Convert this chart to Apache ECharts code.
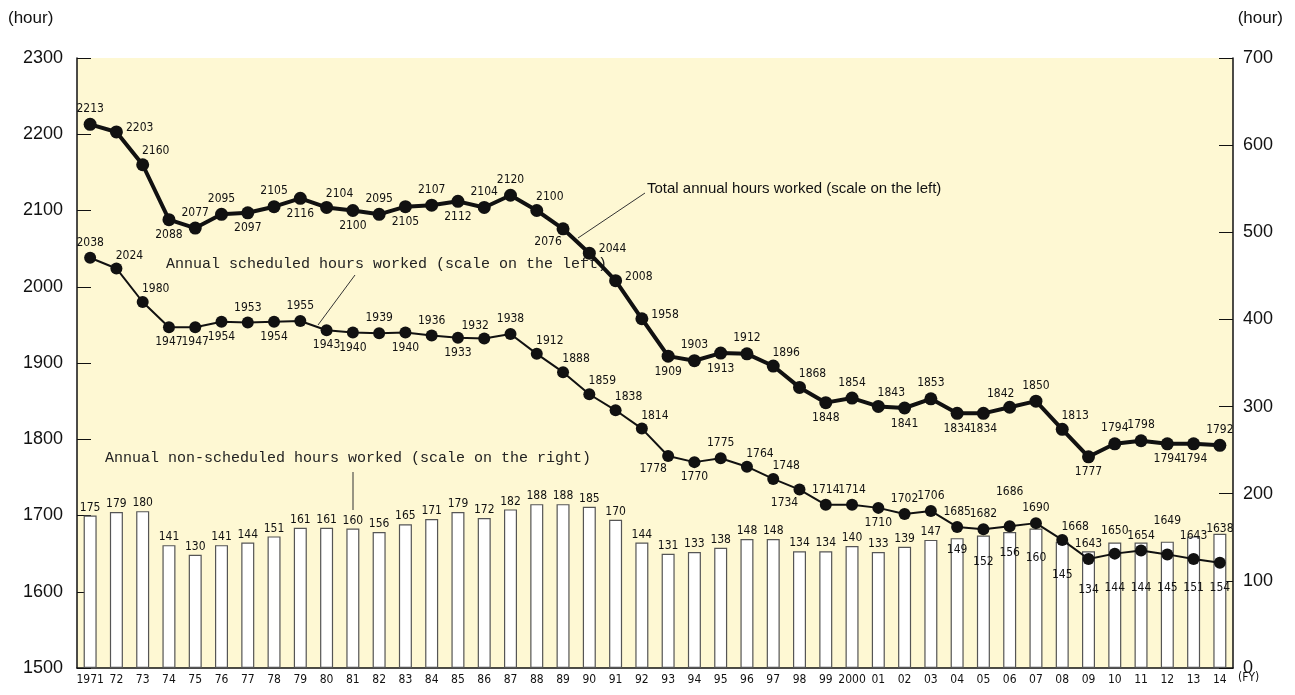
<!DOCTYPE html>
<html>
<head>
<meta charset="utf-8">
<script src="https://cdn.jsdelivr.net/npm/echarts@6/dist/echarts.min.js"></script>
<style>
  html, body { margin: 0; padding: 0; background: #fff; }
  #chart { width: 1295px; height: 695px; }
</style>
</head>
<body>
<div id="chart"></div>
<script>
// fiscal years
var years = ['1971','72','73','74','75','76','77','78','79','80','81','82','83','84','85','86','87','88','89','90',
             '91','92','93','94','95','96','97','98','99','2000','01','02','03','04','05','06','07','08','09','10',
             '11','12','13','14'];

// total annual hours worked (left scale)
var totalHours = [2213,2203,2160,2088,2077,2095,2097,2105,2116,2104,2100,2095,2105,2107,2112,2104,2120,2100,2076,2044,
                  2008,1958,1909,1903,1913,1912,1896,1868,1848,1854,1843,1841,1853,1834,1834,1842,1850,1813,1777,1794,
                  1798,1794,1794,1792];

// annual scheduled hours worked (left scale)
var scheduledHours = [2038,2024,1980,1947,1947,1954,1953,1954,1955,1943,1940,1939,1940,1936,1933,1932,1938,1912,1888,1859,
                      1838,1814,1778,1770,1775,1764,1748,1734,1714,1714,1710,1702,1706,1685,1682,1686,1690,1668,1643,1650,
                      1654,1649,1643,1638];

// annual non-scheduled hours worked (right scale)
var nonScheduledHours = [175,179,180,141,130,141,144,151,161,161,160,156,165,171,179,172,182,188,188,185,
                         170,144,131,133,138,148,148,134,134,140,133,139,147,149,152,156,160,145,134,144,
                         144,145,151,154];

// label placement codes (t = top, tm/tt = higher above, b = bottom, r = right, tr/tl/bl = shifted)
var totalPos = ['t','r','tr','b','t','t','b','t','b','tr','b','t','b','t','b','t','t','tr','bl','r',
                'r','r','b','t','b','t','tr','tr','b','t','tr','b','t','b','b','tl','t','tr','b','t',
                't','b','b','t'];
var schedPos = ['t','tr','tr','b','b','b','t','b','t','b','b','t','b','t','b','tl','t','tr','tr','tr',
                'tr','tr','bl','b','t','tr','tr','bl','t','t','b','t','t','t','t','tt','t','tr','t','tm',
                't','tt','tm','tt'];
// how far inside the bar the value sits, for the last bars hidden by the line
var barInside = {33: 6, 34: 20, 35: 15, 36: 23, 37: 27, 38: 33, 39: 39, 40: 39, 41: 40, 42: 45, 43: 48};

var labelFont = '"DejaVu Sans Condensed", "Liberation Sans Narrow", sans-serif';
var axisFont = '"Liberation Sans", Arial, sans-serif';

function placeLabel(code) {
    var l = { show: true, distance: 3 };
    if (code === 't') { l.position = 'top'; }
    else if (code === 'tm') { l.position = 'top'; l.distance = 11; }
    else if (code === 'tt') { l.position = 'top'; l.distance = 22; }
    else if (code === 'b') { l.position = 'bottom'; }
    else if (code === 'r') { l.position = 'right'; l.offset = [0, -4]; }
    else if (code === 'l') { l.position = 'left'; }
    else if (code === 'tr') { l.position = 'top'; l.offset = [13, 2]; }
    else if (code === 'tl') { l.position = 'top'; l.offset = [-9, 2]; }
    else if (code === 'bl') { l.position = 'bottom'; l.offset = [-15, -2]; }
    return l;
}

function lineData(values, pos) {
    return values.map(function (v, i) {
        return { value: v, label: placeLabel(pos[i]) };
    });
}

function barData(values) {
    return values.map(function (v, i) {
        if (barInside[i] !== undefined) {
            return { value: v, label: { position: 'insideTop', distance: barInside[i] } };
        }
        return v;
    });
}

function init() {
    var chartDoc = document.getElementById('chart');
    var chart = echarts.init(chartDoc);

    var option = {
        animation: false,
        backgroundColor: '#ffffff',
        grid: {
            left: 77, right: 62, top: 58, bottom: 27,
            show: true, backgroundColor: '#fef8d3', borderWidth: 0
        },
        xAxis: {
            type: 'category',
            data: years,
            boundaryGap: true,
            axisLine: { lineStyle: { color: '#111', width: 1.5 } },
            axisTick: { show: false },
            axisLabel: {
                interval: 0, margin: 6, color: '#111',
                fontFamily: labelFont, fontSize: 12
            }
        },
        yAxis: [{
            type: 'value', min: 1500, max: 2300, interval: 100,
            splitLine: { show: false },
            axisLine: { show: true, lineStyle: { color: '#111', width: 1.5 } },
            axisTick: { show: true, inside: true, length: 14, lineStyle: { color: '#111' } },
            axisLabel: {
                margin: 14, color: '#111', fontSize: 18, fontFamily: axisFont,
                formatter: function (v) { return String(v); }
            }
        }, {
            type: 'value', min: 0, max: 700, interval: 100,
            splitLine: { show: false },
            axisLine: { show: true, lineStyle: { color: '#111', width: 1.5 } },
            axisTick: { show: true, inside: true, length: 14, lineStyle: { color: '#111' } },
            axisLabel: {
                margin: 10, color: '#111', fontSize: 18, fontFamily: axisFont,
                formatter: function (v) { return String(v); }
            }
        }],
        series: [{
            name: 'Annual non-scheduled hours worked',
            type: 'bar',
            yAxisIndex: 1,
            data: barData(nonScheduledHours),
            barWidth: 13,
            itemStyle: { color: '#ffffff', borderColor: '#555', borderWidth: 1.2 },
            label: {
                show: true, position: 'top', distance: 2, color: '#111',
                fontFamily: labelFont, fontSize: 12
            },
            z: 2
        }, {
            name: 'Annual scheduled hours worked',
            type: 'line',
            yAxisIndex: 0,
            data: lineData(scheduledHours, schedPos),
            symbol: 'circle', symbolSize: 12,
            lineStyle: { color: '#111', width: 2 },
            itemStyle: { color: '#111' },
            label: { color: '#111', fontFamily: labelFont, fontSize: 12 },
            z: 4
        }, {
            name: 'Total annual hours worked',
            type: 'line',
            yAxisIndex: 0,
            data: lineData(totalHours, totalPos),
            symbol: 'circle', symbolSize: 13,
            lineStyle: { color: '#111', width: 4 },
            itemStyle: { color: '#111' },
            label: { color: '#111', fontFamily: labelFont, fontSize: 12 },
            z: 5
        }],
        graphic: [
            { type: 'text', left: 8, top: 10, style: { text: '(hour)', fontSize: 17, fill: '#111', fontFamily: axisFont } },
            { type: 'text', right: 12, top: 10, style: { text: '(hour)', fontSize: 17, fill: '#111', fontFamily: axisFont } },
            { type: 'text', left: 1238, top: 672, style: { text: '(FY)', fontSize: 12, fill: '#111', fontFamily: labelFont } },
            { type: 'text', left: 647, top: 181, style: { text: 'Total annual hours worked (scale on the left)', fontSize: 15, fill: '#111', fontFamily: axisFont } },
            { type: 'line', shape: { x1: 645, y1: 193, x2: 578, y2: 238 }, style: { stroke: '#333', lineWidth: 1 } },
            { type: 'text', left: 166, top: 257, style: { text: 'Annual scheduled hours worked (scale on the left)', fontSize: 15, fill: '#222', fontFamily: '"Liberation Mono", "DejaVu Sans Mono", monospace' } },
            { type: 'line', shape: { x1: 355, y1: 275, x2: 318, y2: 325 }, style: { stroke: '#333', lineWidth: 1 } },
            { type: 'text', left: 105, top: 451, style: { text: 'Annual non-scheduled hours worked (scale on the right)', fontSize: 15, fill: '#222', fontFamily: '"Liberation Mono", "DejaVu Sans Mono", monospace' } },
            { type: 'line', shape: { x1: 353, y1: 472, x2: 353, y2: 510 }, style: { stroke: '#333', lineWidth: 1 } }
        ]
    };

    chart.setOption(option);
}

init();
</script>
</body>
</html>
